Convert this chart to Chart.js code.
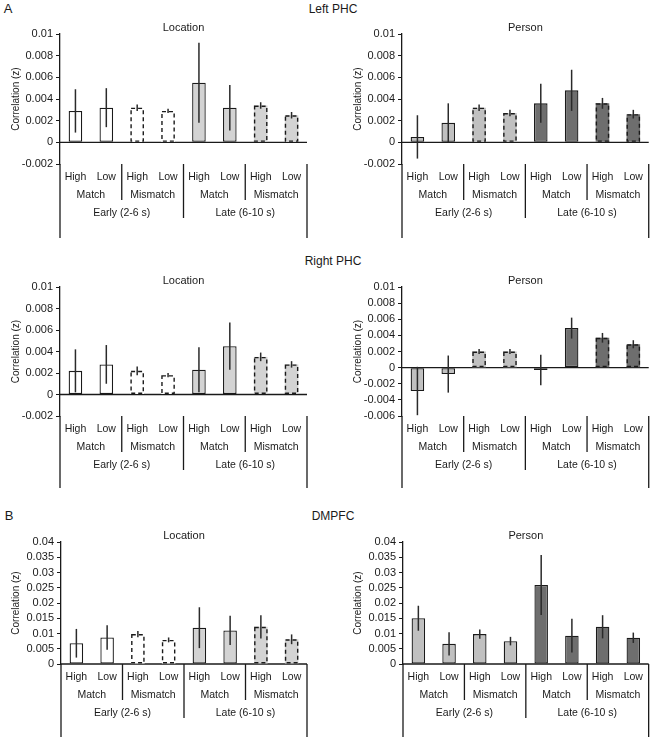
<!DOCTYPE html>
<html>
<head>
<meta charset="utf-8">
<script src="https://cdn.jsdelivr.net/npm/chart.js@4.4.0/dist/chart.umd.min.js"></script>
<style>
  html, body { margin: 0; padding: 0; background: #fff; }
  #fig { position: relative; width: 650px; height: 739px; overflow: hidden;
         font-family: 'Liberation Sans', Arial, sans-serif; color: #1a1a1a; }
  #fig canvas { position: absolute; }
  .lbl { position: absolute; transform: translate(-50%, -50%); white-space: nowrap; }
</style>
</head>
<body>
<div id="fig">
  <div class="lbl" style="left:8px;top:8px;font-size:13px">A</div>
  <div class="lbl" style="left:333px;top:9px;font-size:12px">Left PHC</div>
  <div class="lbl" style="left:333px;top:261px;font-size:12px">Right PHC</div>
  <div class="lbl" style="left:9px;top:515px;font-size:13px">B</div>
  <div class="lbl" style="left:333px;top:516px;font-size:12px">DMPFC</div>

  <canvas id="c1" width="310" height="240" style="left:0;top:0"></canvas>
  <canvas id="c2" width="308" height="240" style="left:342px;top:0"></canvas>
  <canvas id="c3" width="310" height="240" style="left:0;top:250px"></canvas>
  <canvas id="c4" width="308" height="240" style="left:342px;top:250px"></canvas>
  <canvas id="c5" width="310" height="249" style="left:0;top:490px"></canvas>
  <canvas id="c6" width="308" height="249" style="left:342px;top:490px"></canvas>
</div>

<script>
const ink = '#1a1a1a';
Chart.defaults.font.family = "'Liberation Sans', Arial, sans-serif";
Chart.defaults.color = ink;

// categories
const levels = ['High', 'Low', 'High', 'Low', 'High', 'Low', 'High', 'Low'];
const conditions = ['Match', 'Mismatch', 'Match', 'Mismatch'];
const periods = ['Early (2-6 s)', 'Late (6-10 s)'];

// y tick labels
const phcTicks = [-0.002, 0, 0.002, 0.004, 0.006, 0.008, 0.01];
const rightPersonTicks = [-0.006, -0.004, -0.002, 0, 0.002, 0.004, 0.006, 0.008, 0.01];
const dmpfcTicks = [0, 0.005, 0.01, 0.015, 0.02, 0.025, 0.03, 0.035, 0.04];

// means and error bars
const leftLocMean = [0.0029, 0.0032, 0.0032, 0.0029, 0.0055, 0.0032, 0.0034, 0.0025];
const leftLocErr = [0.002, 0.0018, 0.0003, 0.0002, 0.0037, 0.0021, 0.0003, 0.0003];
const leftPerMean = [0.0005, 0.0018, 0.0032, 0.0027, 0.0036, 0.0048, 0.0036, 0.0026];
const leftPerErr = [0.002, 0.0018, 0.0003, 0.0003, 0.0018, 0.0019, 0.0005, 0.0004];
const rightLocMean = [0.0022, 0.0028, 0.0022, 0.0018, 0.0023, 0.0045, 0.0035, 0.0028];
const rightLocErr = [0.002, 0.0018, 0.0004, 0.0002, 0.0021, 0.0022, 0.0004, 0.0003];
const rightPerMean = [-0.0029, -0.0008, 0.002, 0.002, -0.0003, 0.0049, 0.0037, 0.0029];
const rightPerErr = [0.003, 0.0023, 0.0003, 0.0003, 0.0019, 0.0013, 0.0006, 0.0005];
const dmLocMean = [0.0068, 0.0087, 0.0098, 0.0079, 0.0119, 0.011, 0.0122, 0.0081];
const dmLocErr = [0.0047, 0.004, 0.001, 0.0008, 0.0067, 0.0048, 0.0038, 0.0016];
const dmPerMean = [0.015, 0.0066, 0.0098, 0.0075, 0.0259, 0.0093, 0.0122, 0.0086];
const dmPerErr = [0.0041, 0.0038, 0.0015, 0.0014, 0.0098, 0.0055, 0.0038, 0.0017];

const locFill = ['#ffffff', '#ffffff', '#ffffff', '#ffffff', '#d3d3d3', '#d3d3d3', '#d3d3d3', '#d3d3d3'];
const perFill = ['#c0c0c0', '#c0c0c0', '#c0c0c0', '#c0c0c0', '#6e6e6e', '#6e6e6e', '#6e6e6e', '#6e6e6e'];
const mismatchDashed = [false, false, true, true, false, false, true, true];
const noDashed = [false, false, false, false, false, false, false, false];

// zero line, dashed outlines, error bars, grouped axis labels
const panelDecor = {
  id: 'panel',
  beforeDatasetsDraw(chart) {
    const { ctx, chartArea: a, scales: { y } } = chart;
    const y0 = y.getPixelForValue(0);
    ctx.save();
    ctx.strokeStyle = ink;
    ctx.lineWidth = 1.3;
    ctx.beginPath();
    ctx.moveTo(a.left, y0);
    ctx.lineTo(a.right, y0);
    ctx.stroke();
    ctx.restore();
  },
  afterDatasetsDraw(chart, args, opts) {
    const { ctx, scales: { y } } = chart;
    const vals = chart.data.datasets[0].data;
    ctx.save();
    chart.getDatasetMeta(0).data.forEach((bar, i) => {
      const p = bar.getProps(['x', 'y', 'base', 'width'], true);
      if (opts.dashed[i]) {
        ctx.setLineDash([4, 3]);
        ctx.strokeStyle = ink;
        ctx.lineWidth = 1.4;
        const top = Math.min(p.y, p.base), h = Math.abs(p.base - p.y);
        ctx.strokeRect(p.x - p.width / 2 + 0.7, top + 0.7, p.width - 1.4, h - 1.4);
      }
      ctx.setLineDash([]);
      ctx.strokeStyle = '#2a2a2a';
      ctx.lineWidth = 1.5;
      ctx.beginPath();
      ctx.moveTo(p.x, y.getPixelForValue(vals[i] + opts.err[i]));
      ctx.lineTo(p.x, y.getPixelForValue(vals[i] - opts.err[i]));
      ctx.stroke();
    });
    ctx.restore();
  },
  afterDraw(chart, args, opts) {
    const { ctx, chartArea: a, scales: { x } } = chart;
    const B = a.bottom;
    const px = i => x.getPixelForValue(i);
    const mid = i => (px(i) + px(i + 1)) / 2;
    ctx.save();
    ctx.fillStyle = ink;
    ctx.textAlign = 'center';
    ctx.textBaseline = 'middle';
    ctx.font = "11px 'Liberation Sans', Arial, sans-serif";
    ctx.fillText(opts.title, (a.left + a.right) / 2, a.top - 6.5);

    ctx.font = "10.5px 'Liberation Sans', Arial, sans-serif";
    conditions.forEach((c, k) => ctx.fillText(c, (px(2 * k) + px(2 * k + 1)) / 2, B + 31));
    periods.forEach((t, k) => ctx.fillText(t, (px(4 * k) + px(4 * k + 3)) / 2, B + 49));

    ctx.strokeStyle = ink;
    ctx.lineWidth = 1.3;
    const seg = (sx, y1, y2) => { ctx.beginPath(); ctx.moveTo(sx, y1); ctx.lineTo(sx, y2); ctx.stroke(); };
    seg(mid(1), B, B + 36);
    seg(mid(5), B, B + 36);
    seg(mid(3), B, B + 54);
    seg(a.left, B, chart.height - 2);
    seg(a.right, B, chart.height - 2);
    ctx.restore();
  }
};

function makePanel(id, p) {
  new Chart(document.getElementById(id), {
    type: 'bar',
    data: {
      labels: levels,
      datasets: [{
        data: p.mean,
        backgroundColor: p.fill,
        borderColor: ink,
        borderWidth: p.dashed.map(d => d ? 0 : 1.3),
        borderSkipped: false,
        barPercentage: 0.44,
        categoryPercentage: 1
      }]
    },
    options: {
      responsive: false,
      animation: false,
      layout: { padding: { top: p.top, right: p.padRight, left: 0, bottom: 0 } },
      plugins: {
        legend: { display: false },
        tooltip: { enabled: false },
        panel: { title: p.title, err: p.err, dashed: p.dashed }
      },
      scales: {
        x: {
          grid: { display: false, drawTicks: false },
          border: { display: false },
          ticks: { font: { size: 10.5 }, padding: 7, autoSkip: false, maxRotation: 0, color: ink },
          afterFit: s => { s.height = p.xHeight; }
        },
        y: {
          min: p.ticks[0],
          max: p.ticks[p.ticks.length - 1],
          afterBuildTicks: s => { s.ticks = p.ticks.map(v => ({ value: v })); },
          ticks: { font: { size: 11 }, padding: 3, color: ink, autoSkip: false, callback: v => String(v) },
          grid: { drawOnChartArea: false, tickLength: 4, color: ink, lineWidth: 1 },
          border: { display: true, color: ink, width: 1.3 },
          title: { display: true, text: 'Correlation (z)', font: { size: 10 }, padding: { top: 10 }, color: ink },
          afterFit: s => { s.width = p.axisW; }
        }
      }
    },
    plugins: [panelDecor]
  });
}

makePanel('c1', { title: 'Location', ticks: phcTicks, mean: leftLocMean, err: leftLocErr, fill: locFill, dashed: mismatchDashed, top: 34, axisW: 60, padRight: 3, xHeight: 76 });
makePanel('c2', { title: 'Person', ticks: phcTicks, mean: leftPerMean, err: leftPerErr, fill: perFill, dashed: mismatchDashed, top: 34, axisW: 60, padRight: 1, xHeight: 76 });
makePanel('c3', { title: 'Location', ticks: phcTicks, mean: rightLocMean, err: rightLocErr, fill: locFill, dashed: mismatchDashed, top: 37, axisW: 60, padRight: 3, xHeight: 74 });
makePanel('c4', { title: 'Person', ticks: rightPersonTicks, mean: rightPerMean, err: rightPerErr, fill: perFill, dashed: mismatchDashed, top: 37, axisW: 60, padRight: 1, xHeight: 74 });
makePanel('c5', { title: 'Location', ticks: dmpfcTicks, mean: dmLocMean, err: dmLocErr, fill: locFill, dashed: mismatchDashed, top: 52, axisW: 61, padRight: 3, xHeight: 75 });
makePanel('c6', { title: 'Person', ticks: dmpfcTicks, mean: dmPerMean, err: dmPerErr, fill: perFill, dashed: noDashed, top: 52, axisW: 61, padRight: 1, xHeight: 75 });
</script>
</body>
</html>
